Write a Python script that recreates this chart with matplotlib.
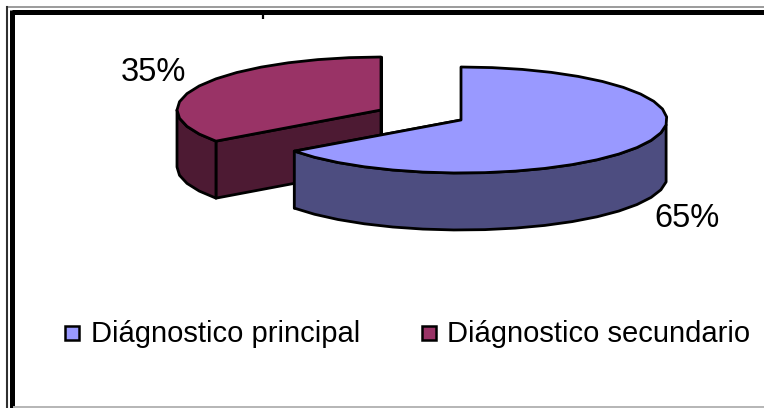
"""Pie chart of diagnosis type, drawn as a tilted 3D pie with exploded slices."""

import numpy as np
import matplotlib
matplotlib.use("Agg")
import matplotlib.pyplot as plt
from matplotlib.patches import Polygon, Rectangle

categories = ["Diágnostico principal", "Diágnostico secundario"]
shares = [65, 35]
share_labels = ["65%", "35%"]

top_colors = ["#9999FF", "#993366"]
side_colors = ["#4D4D80", "#4D1A33"]

WIDTH, HEIGHT = 764, 408
RADII_X = [206, 204]
RY = 53
DEPTH = 57
CENTERS = [(461, 120), (381, 110)]
FONT = "Liberation Sans"


def arc(center, rx, start, stop, n):
    # angles run clockwise from 12 o'clock, in fractions of the full pie
    a = np.linspace(start, stop, n) * 2 * np.pi
    return np.column_stack([center[0] + rx * np.sin(a), center[1] - RY * np.cos(a)])


def draw_slice(ax, center, rx, start, stop, top, side):
    edge = dict(edgecolor="black", linewidth=2.0, joinstyle="round")
    # a fairly coarse rim gives the faceted outline
    rim = arc(center, rx, start, stop, n=max(8, int(44 * (stop - start))))
    cx, cy = center
    down = np.array([0, DEPTH])

    # inner cut faces first, then the outer wall, then the lid
    for p in (rim[0], rim[-1]):
        face = [(cx, cy), p, p + down, (cx, cy + DEPTH)]
        ax.add_patch(Polygon(face, facecolor=side, **edge))

    front = rim[rim[:, 1] >= cy - 1]
    wall = np.vstack([front, (front + down)[::-1]])
    ax.add_patch(Polygon(wall, facecolor=side, **edge))

    lid = np.vstack([[(cx, cy)], rim])
    ax.add_patch(Polygon(lid, facecolor=top, **edge))


def draw_frame(ax):
    # grey hairline outside, heavy black rule inside it; the right side runs off the edge
    ax.plot([6.5, WIDTH], [6.5, 6.5], color="#8a8a8a", linewidth=1.2)
    ax.plot([6.5, 6.5], [6.5, HEIGHT], color="#303030", linewidth=1.5)
    ax.plot([12, WIDTH], [12, 12], color="black", linewidth=3.6, solid_capstyle="butt")
    ax.plot([12, 12], [10, HEIGHT], color="black", linewidth=3.6, solid_capstyle="butt")
    ax.plot([14, WIDTH], [407.2, 407.2], color="#b5b5b5", linewidth=1.4)
    ax.plot([263, 263], [14, 19], color="black", linewidth=1.6, solid_capstyle="butt")


def main():
    plt.rcParams["font.family"] = [FONT, "DejaVu Sans"]
    fig = plt.figure(figsize=(WIDTH / 100, HEIGHT / 100), dpi=100)
    ax = fig.add_axes([0, 0, 1, 1])
    ax.set_xlim(0, WIDTH)
    ax.set_ylim(HEIGHT, 0)
    ax.axis("off")

    fractions = np.cumsum([0] + shares) / sum(shares)

    draw_frame(ax)
    # second slice sits behind the first
    draw_slice(ax, CENTERS[1], RADII_X[1], fractions[1], fractions[2], top_colors[1], side_colors[1])
    draw_slice(ax, CENTERS[0], RADII_X[0], fractions[0], fractions[1], top_colors[0], side_colors[0])

    ax.text(687, 218.5, share_labels[0], fontsize=23.5, ha="center", va="center")
    ax.text(153, 72.5, share_labels[1], fontsize=23.5, ha="center", va="center")

    for name, color, box_x, text_x in zip(categories, top_colors, (65, 422), (91, 447)):
        ax.add_patch(Rectangle((box_x, 325.5), 14, 14, facecolor=color,
                               edgecolor="black", linewidth=1.8))
        ax.text(text_x, 334, name, fontsize=21, ha="left", va="center")

    fig.savefig("out.png", dpi=100)


if __name__ == "__main__":
    main()
